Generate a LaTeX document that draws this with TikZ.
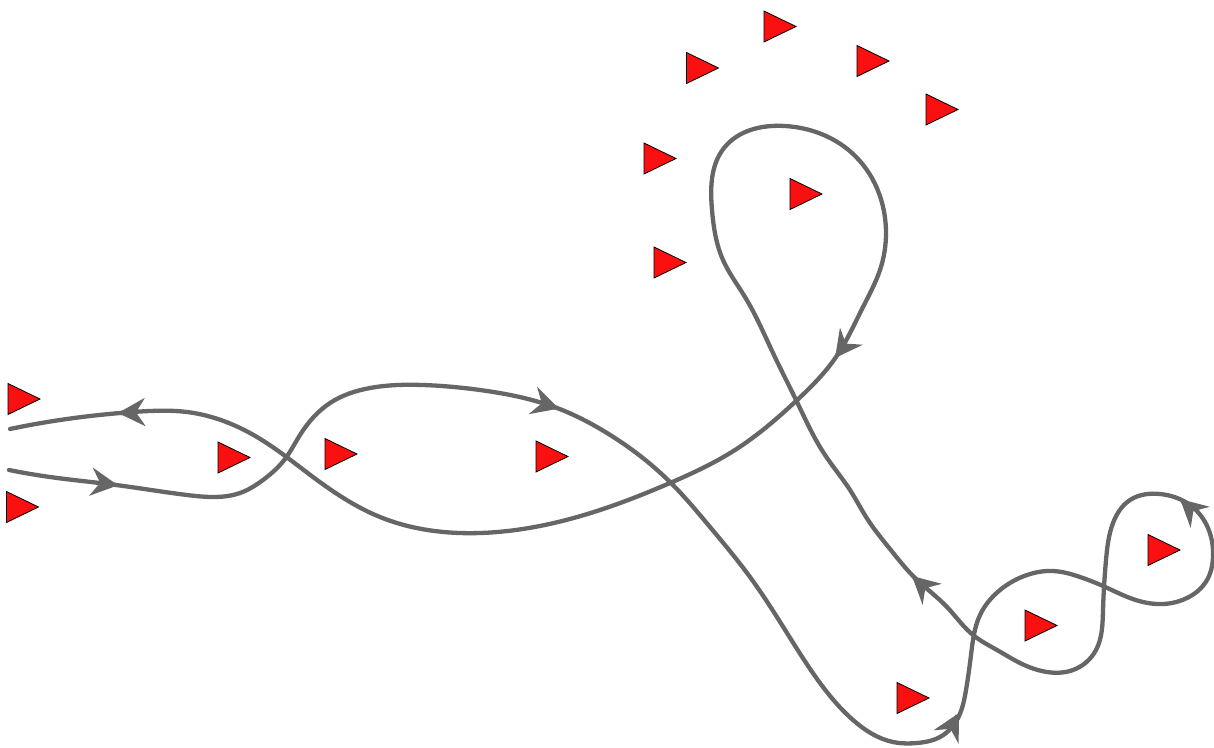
\documentclass[tikz,border=0pt]{standalone}
\usetikzlibrary{shapes.geometric,arrows.meta,hobby}
\definecolor{curvegray}{RGB}{102,102,102}
\definecolor{trired}{RGB}{250,16,16}
\begin{document}
\begin{tikzpicture}[x=1pt,y=-1pt,
  tri/.style={isosceles triangle, isosceles triangle stretches, minimum width=31pt, minimum height=32pt,
    inner sep=0pt, outer sep=0pt, draw=black, fill=trired, line width=0.8pt, anchor=apex},
  curve/.style={draw=curvegray, line width=4.3pt, line cap=round, line join=round},
  arr/.style={draw=curvegray, line width=4.3pt, -{Stealth[length=27pt,width=28pt,inset=9pt]}}]
\useasboundingbox (0,0) rectangle (1214,747);
% path
\draw[curve, use Hobby shortcut]
 (9,470) .. (50,477) .. (116,485) .. (187,495) .. (213,497) .. (240,493) .. (263,480) .. (285,459)
 .. (300,435) .. (330,403) .. (370,388) .. (423,385) .. (480,390) .. (557,408) .. (607,433)
 .. (670,482) .. (710,527) .. (750,577) .. (787,633) .. (820,683) .. (853,720) .. (893,742) .. (917,743) .. (940,737) .. (958,718)
 .. (966,690) .. (971,655) .. (980,615) .. (1000,590) .. (1027,575) .. (1053,571) .. (1080,577) .. (1103,586)
 .. (1130,598) .. (1157,604) .. (1187,598) .. (1207,580) .. (1213,557) .. (1208,528) .. (1190,505) .. (1160,494)
 .. (1130,500) .. (1113,523) .. (1106,560) .. (1103,610) .. (1096,650) .. (1073,670) .. (1047,672) .. (1020,663)
 .. (997,650) .. (973,635) .. (947,607) .. (915,578) .. (890,549) .. (868,520) .. (850,490) .. (825,455) .. (797,402)
 .. (773,353) .. (745,297) .. (723,260) .. (712,210) .. (724,148) .. (785,126) .. (852,153)
 .. (886,233) .. (880,270) .. (863,307) .. (836,357) .. (795,402) .. (735,450) .. (670,483) .. (600,510)
 .. (480,533) .. (380,517) .. (313,477) .. (257,437) .. (187,412)
 .. (150,411) .. (120,413) .. (60,420) .. (10,429);
% arrowheads
\coordinate (a1) at (118,485.3);
\coordinate (a2) at (559,408.6);
\coordinate (a3) at (835,358);
\coordinate (a4) at (959,713);
\coordinate (a5) at (912,576);
\coordinate (a6) at (1180,499);
\coordinate (a7) at (118,413);
\draw[arr] (115,484.9) -- (a1);
\draw[arr] (556.1,407.7) -- (a2);
\draw[arr] (836.8,355.6) -- (a3);
\draw[arr] (957.6,715.6) -- (a4);
\draw[arr] (914.2,578) -- (a5);
\draw[arr] (1182.2,501) -- (a6);
\draw[arr] (121,412.9) -- (a7);
% triangles (apex positions)
\node[tri] (t1) at (40,399) {};
\node[tri] (t2) at (38.5,507) {};
\node[tri] (t3) at (250,457.5) {};
\node[tri] (t4) at (357,454) {};
\node[tri] (t5) at (568,456.5) {};
\node[tri] (t6) at (676,158.5) {};
\node[tri] (t7) at (686,262.5) {};
\node[tri] (t8) at (718.5,68) {};
\node[tri] (t9) at (796,26.5) {};
\node[tri] (t10) at (889,61) {};
\node[tri] (t11) at (958,109.5) {};
\node[tri] (t12) at (822,194) {};
\node[tri] (t13) at (929,698) {};
\node[tri] (t14) at (1057,625.5) {};
\node[tri] (t15) at (1180,550) {};
\end{tikzpicture}
\end{document}
